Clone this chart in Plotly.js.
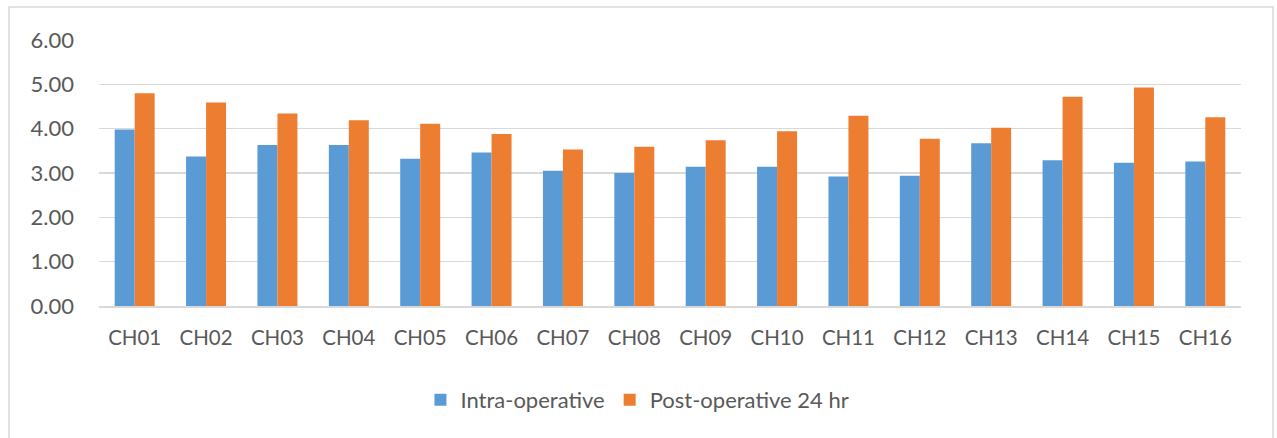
<!DOCTYPE html>
<html>
<head>
<meta charset="utf-8">
<script src="https://cdn.plot.ly/plotly-3.0.1.min.js"></script>
<style>html,body{margin:0;padding:0;background:#fff;}#chart{width:1277px;height:438px;}</style>
</head>
<body>
<div id="chart"></div>
<script>
const categories = ["CH01","CH02","CH03","CH04","CH05","CH06","CH07","CH08","CH09","CH10","CH11","CH12","CH13","CH14","CH15","CH16"];
const intraOperative = [3.98,3.37,3.63,3.63,3.32,3.46,3.05,3.00,3.14,3.14,2.92,2.94,3.67,3.29,3.23,3.26];
const postOperative24 = [4.80,4.59,4.34,4.19,4.11,3.88,3.53,3.59,3.74,3.94,4.29,3.77,4.02,4.72,4.93,4.26];
const yTicks = [0,1,2,3,4,5,6];
const yTickLabels = ["0.00","1.00","2.00","3.00","4.00","5.00","6.00"];

const fam = "Lato, 'Open Sans', sans-serif";
const xFont = {family: fam, size: 20.5, color: "#595959"};
const yFont = {family: fam, size: 22, color: "#595959"};
const legFont = {family: fam, size: 22, color: "#595959"};
const traces = [
  {type: "bar", name: "Intra-operative", x: categories, y: intraOperative, marker: {color: "#5B9BD5", line: {width: 0}}},
  {type: "bar", name: "Post-operative 24 hr", x: categories, y: postOperative24, marker: {color: "#ED7D31", line: {width: 0}}}
];
const layout = {
  width: 1277, height: 438,
  margin: {l: 99, r: 36, t: 40, b: 132},
  paper_bgcolor: "#fff", plot_bgcolor: "#fff",
  font: xFont,
  barmode: "group", bargap: 0.44, bargroupgap: 0,
  showlegend: true,
  legend: {orientation: "h", x: 0.4715, xanchor: "center", y: -0.353, yanchor: "middle", font: legFont, itemwidth: 30, traceorder: "normal"},
  xaxis: {type: "category", showgrid: false, showline: true, linecolor: "#D9D9D9", linewidth: 1.5, ticks: "", tickfont: xFont, ticklabelstandoff: 13, fixedrange: true},
  yaxis: {range: [0, 6], tickvals: yTicks, ticktext: yTickLabels, showgrid: true, gridcolor: "#D9D9D9", gridwidth: 1.5, zeroline: false, showline: false, ticks: "", tickfont: yFont, ticklabelstandoff: 24, fixedrange: true},
  shapes: [{type: "rect", xref: "paper", yref: "paper", x0: -0.0788, x1: 1.028, y0: -0.504, y1: 1.124, line: {color: "#D9D9D9", width: 1.5}, fillcolor: "rgba(0,0,0,0)", layer: "below"}]
};
Plotly.newPlot("chart", traces, layout, {displayModeBar: false, staticPlot: true});
</script>
</body>
</html>
